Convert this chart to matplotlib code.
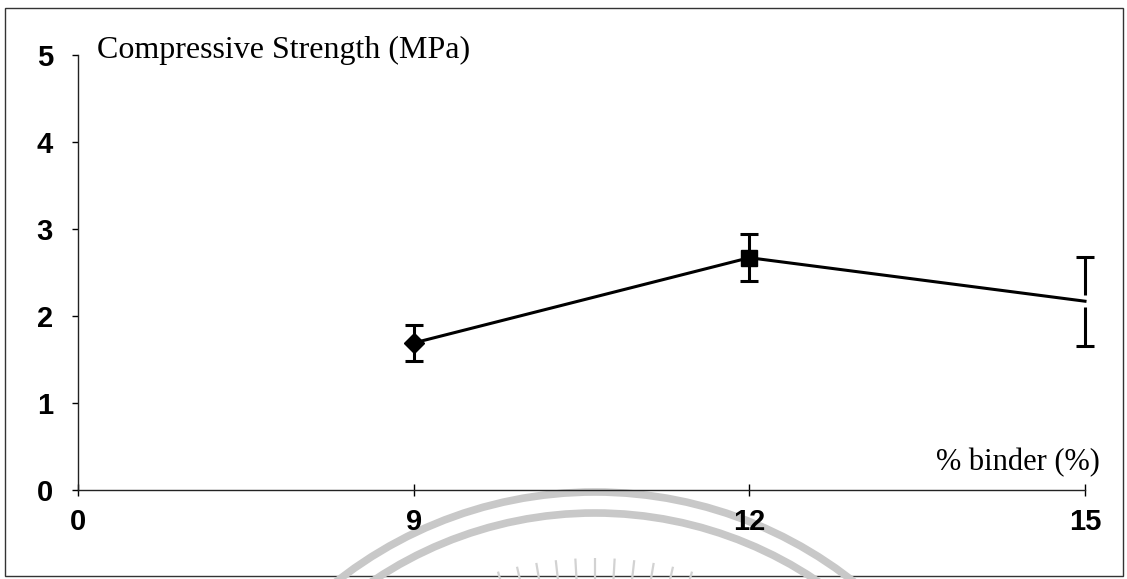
import matplotlib
matplotlib.use("Agg")
import matplotlib.pyplot as plt
import numpy as np
from matplotlib.patches import Arc, Rectangle


############# Data ##############
binder_labels = ["0", "9", "12", "15"]
binder_pos = [1, 2, 3]              # category slots holding measurements
strength = [1.69, 2.67, 2.17]       # MPa
strength_err = [0.21, 0.27, 0.51]   # MPa
point_markers = ["D", "s", None]
y_ticks = [0, 1, 2, 3, 4, 5]

W, H = 1127, 579


def draw_background(fig):
    '''
    Full-figure layer in pixel units: the frame around the chart and the
    faint grey seal printed behind it.
    '''
    bg = fig.add_axes([0, 0, 1, 1], zorder=0)
    bg.set_xlim(0, W)
    bg.set_ylim(H, 0)
    bg.axis("off")

    bg.add_patch(Rectangle((5, 8), 1118, 568, fill=False, lw=1.0, ec="#333333"))

    # y axis is flipped here, so the upper half of the circle is 180..360
    cx, cy = 595, 910
    for r in (418, 397):
        bg.add_patch(Arc((cx, cy), 2 * r, 2 * r, theta1=180, theta2=360,
                         lw=5.5, color="#c8c8c8"))
    for ang in np.arange(74, 107, 3.2):
        a = np.deg2rad(ang)
        r0, r1 = 328, 352
        bg.plot([cx + r0 * np.cos(a), cx + r1 * np.cos(a)],
                [cy - r0 * np.sin(a), cy - r1 * np.sin(a)],
                color="#d2d2d2", lw=1.6, solid_capstyle="butt")
    return bg


def create_chart():
    fig = plt.figure(figsize=(W / 100, H / 100), dpi=100)
    draw_background(fig)

    ax = fig.add_axes([78 / W, 1 - 490 / H, (1085 - 78) / W, (490 - 55) / H], zorder=1)
    ax.patch.set_alpha(0)

    x = np.array(binder_pos)
    y = np.array(strength)

    eb = ax.errorbar(x, y, yerr=strength_err, fmt="none", ecolor="black",
                     elinewidth=2.2, capsize=6.8, capthick=2.2, zorder=2)
    for art in eb.lines[1] + eb.lines[2]:
        art.set_clip_on(False)
    # the last point has no marker, only a small blank gap in its error bar
    ax.plot(x[2], y[2], "s", ms=9, mfc="white", mec="none", zorder=3, clip_on=False)
    ax.plot(x, y, "-", color="black", lw=2.2, zorder=4, clip_on=False)
    for xi, yi, m in zip(x, y, point_markers):
        if m is not None:
            ax.plot(xi, yi, m, color="black", ms=11 if m == "s" else 10, zorder=5,
                    clip_on=False)

    ax.set_xlim(0, 3)
    ax.set_ylim(0, 5)
    ax.set_xticks(range(len(binder_labels)))
    ax.set_xticklabels(binder_labels)
    ax.set_yticks(y_ticks)

    for side in ("top", "right"):
        ax.spines[side].set_visible(False)
    for side in ("left", "bottom"):
        ax.spines[side].set_linewidth(1.0)
        ax.spines[side].set_color("#222222")

    ax.tick_params(axis="y", direction="out", length=4, width=1, pad=14,
                   labelsize=21)
    ax.tick_params(axis="x", direction="inout", length=8, width=1, pad=9,
                   labelsize=21)
    for lab in ax.get_xticklabels() + ax.get_yticklabels():
        lab.set_fontweight("bold")
        lab.set_family("Liberation Sans")

    fig.text(97 / W, 1 - 50 / H, "Compressive Strength (MPa)", family="Liberation Serif",
             fontsize=23, ha="left", va="center")
    fig.text(1100 / W, 1 - 463 / H, "% binder (%)", family="Liberation Serif",
             fontsize=22, ha="right", va="center")

    fig.savefig("out.png", dpi=100)


def main():
    create_chart()


if __name__ == "__main__":
    main()
